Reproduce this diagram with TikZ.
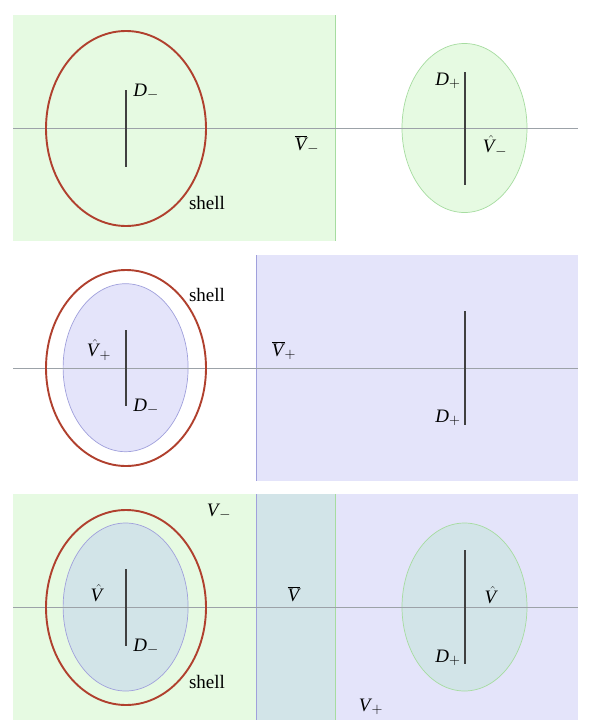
\documentclass[tikz,border=0pt]{standalone}
\usepackage{fontspec}
\setmainfont{Liberation Serif}
\newcommand{\iV}{\mbox{\itshape V\kern0.05em}}
\newcommand{\iD}{\mbox{\itshape D}}
\newcommand{\hV}{\skew{4}{\hat}{\iV}}
\begin{document}
\begin{tikzpicture}[x=1pt,y=-1pt,
  lbl/.style={inner sep=0pt,font=\fontsize{19}{21}\selectfont},
  greenfill/.style={fill=grn},
  bluefill/.style={fill=blu},
  axisline/.style={draw=axc,line width=0.7pt},
  dline/.style={draw=black!75,line width=1.6pt},
  shellline/.style={draw=shc,line width=1.9pt},
  gedge/.style={draw=grnE,line width=0.7pt},
  bedge/.style={draw=bluE,line width=0.7pt}]
\definecolor{grn}{HTML}{E6FAE2}
\definecolor{grnE}{HTML}{A6DCA0}
\definecolor{blu}{HTML}{E4E4FA}
\definecolor{bluE}{HTML}{A0A0DC}
\definecolor{mix}{HTML}{D2E4E8}
\definecolor{axc}{HTML}{9CA2A8}
\definecolor{shc}{HTML}{B0402E}
\useasboundingbox (0,0) rectangle (590,728);
\fill[white] (0,0) rectangle (590,728);
% ---------------- top panel
\fill[greenfill] (13,15) rectangle (335,241);
\draw[gedge] (335,15) -- (335,241);
\filldraw[fill=grn,draw=grnE,line width=0.7pt] (464.5,128) ellipse [x radius=62.5,y radius=84.5];
\draw[axisline] (13,128) -- (578,128);
\draw[dline] (126,90) -- (126,167);
\draw[dline] (465,72) -- (465,185);
\draw[shellline] (126,128.5) ellipse [x radius=80,y radius=97.5];
\node[lbl] (t1) at (146,92) {$\iD_{-}$};
\node[lbl] (t2) at (207,203) {shell};
\node[lbl] (t3) at (307,145) {$\overline{\iV}_{-}$};
\node[lbl] (t4) at (448,81) {$\iD_{+}$};
\node[lbl] (t5) at (495,146) {$\hV_{-}$};
% ---------------- middle panel
\fill[bluefill] (256,255) rectangle (578,481);
\draw[bedge] (256,255) -- (256,481);
\filldraw[fill=blu,draw=bluE,line width=0.7pt] (125.6,367.7) ellipse [x radius=62.5,y radius=84];
\draw[axisline] (13,368) -- (578,368);
\draw[dline] (126,330) -- (126,406);
\draw[dline] (465,311) -- (465,425);
\draw[shellline] (126,368) ellipse [x radius=80,y radius=98];
\node[lbl] (m1) at (99,350) {$\hV_{+}$};
\node[lbl] (m2) at (146,407) {$\iD_{-}$};
\node[lbl] (m3) at (207,295) {shell};
\node[lbl] (m4) at (284,351) {$\overline{\iV}_{+}$};
\node[lbl] (m5) at (448,418) {$\iD_{+}$};
% ---------------- bottom panel
\fill[greenfill] (13,494) rectangle (335,720);
\fill[bluefill] (256,494) rectangle (578,720);
\fill[mix] (256,494) rectangle (335,720);
\draw[bedge] (256,494) -- (256,720);
\draw[gedge] (335,494) -- (335,720);
\filldraw[fill=mix,draw=bluE,line width=0.7pt] (125.6,607) ellipse [x radius=62.5,y radius=84];
\filldraw[fill=mix,draw=grnE,line width=0.7pt] (464.5,607) ellipse [x radius=62.5,y radius=84];
\draw[axisline] (13,607) -- (578,607);
\draw[dline] (126,569) -- (126,646);
\draw[dline] (465,550) -- (465,664);
\draw[shellline] (126,607.5) ellipse [x radius=80,y radius=97.5];
\node[lbl] (b1) at (219,512) {$\iV_{-}$};
\node[lbl] (b2) at (97,593) {$\hV$};
\node[lbl] (b3) at (146,647) {$\iD_{-}$};
\node[lbl] (b4) at (207,682) {shell};
\node[lbl] (b5) at (294,594) {$\overline{\iV}$};
\node[lbl] (b6) at (491,595) {$\hV$};
\node[lbl] (b7) at (448,658) {$\iD_{+}$};
\node[lbl] (b8) at (371,707) {$\iV_{+}$};
\end{tikzpicture}
\end{document}
